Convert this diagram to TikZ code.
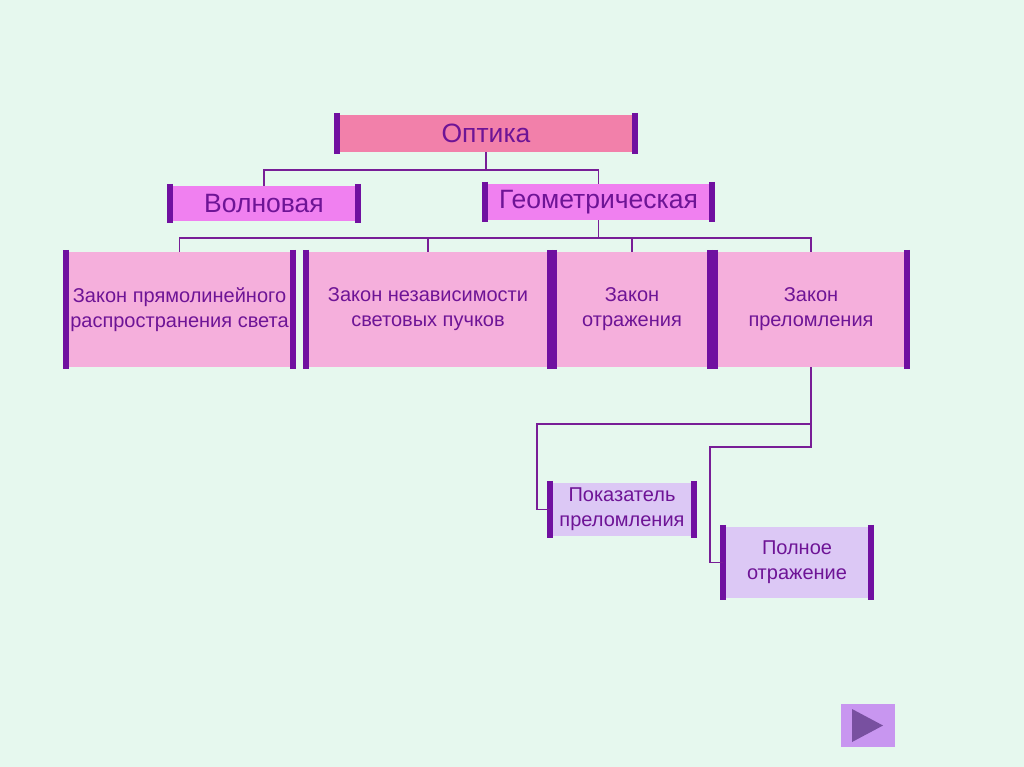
\documentclass[tikz,border=0pt]{standalone}
\usepackage{fontspec}
\setmainfont{Liberation Sans}
\usetikzlibrary{positioning}

\definecolor{bgmint}{RGB}{230,248,238}
\definecolor{barpurple}{RGB}{112,16,160}
\definecolor{linepurple}{RGB}{120,30,150}
\definecolor{textpurple}{RGB}{110,20,150}
\definecolor{titlepink}{RGB}{242,128,170}
\definecolor{branchpink}{RGB}{240,128,240}
\definecolor{lawpink}{RGB}{245,175,220}
\definecolor{subviolet}{RGB}{220,200,245}
\definecolor{btnviolet}{RGB}{200,150,240}
\definecolor{btntri}{RGB}{120,80,160}

\tikzset{
    box/.style     = {inner sep = 0pt, text = textpurple, align = center},
    bigbox/.style  = {box, font = \fontsize{26.5}{30}\selectfont},
    lawbox/.style  = {box, fill = lawpink, minimum height = 115pt,
                      font = \fontsize{20}{25}\selectfont},
    subbox/.style  = {box, fill = subviolet,
                      font = \fontsize{20}{25}\selectfont},
    bar/.style     = {barpurple, line width = 6},
    link/.style    = {linepurple, line width = 1.8},
}

\begin{document}
\begin{tikzpicture}[x = 1pt, y = -1pt]
    \fill [bgmint] (0,0) rectangle (1024,767);
    \useasboundingbox (0,0) rectangle (1024,767);

    % top levels
    \node (optika) at (486,133.5) [bigbox, fill = titlepink, minimum width = 298pt, minimum height = 37pt] {Оптика};
    \node (wave)   at (264,203.5) [bigbox, fill = branchpink, minimum width = 188pt, minimum height = 35pt] {Волновая};
    \node (geom)   at (598.5,202) [bigbox, fill = branchpink, minimum width = 227pt, minimum height = 36pt] {Геометрическая};

    % laws
    \node (straight) at (179.5,309.5) [lawbox, minimum width = 227pt] {Закон прямолинейного\\распространения света};
    \node (indep)    at (428,309.5)   [lawbox, minimum width = 244pt] {Закон независимости\\световых пучков};
    \node (reflect)  at (632,309.5)   [lawbox, minimum width = 156pt] {Закон\\отражения};
    \node (refract)  at (811,309.5)   [lawbox, minimum width = 192pt] {Закон\\преломления};

    % refraction
    \node (index) at (622,509.5) [subbox, minimum width = 144pt, minimum height = 53pt] {Показатель\\преломления};
    \node (total) at (797,562.5) [subbox, minimum width = 148pt, minimum height = 71pt] {Полное\\отражение};

    \foreach \n in {optika, wave, geom, straight, indep, reflect, refract, index, total} {
        \draw [bar] ([yshift = 2]\n.north west) -- ([yshift = -2]\n.south west);
        \draw [bar] ([yshift = 2]\n.north east) -- ([yshift = -2]\n.south east);
    }

    \draw [link] (optika.south) -- ++(0,18) -| (wave.north);
    \draw [link] (optika.south) -- ++(0,18) -| (geom.north);

    \draw [link] (geom.south) -- ++(0,18) -| (straight.north);
    \draw [link] (geom.south) -- ++(0,18) -| (indep.north);
    \draw [link] (geom.south) -- ++(0,18) -| (reflect.north);
    \draw [link] (geom.south) -- ++(0,18) -| (refract.north);

    \coordinate (fork) at ([yshift = -57]refract.south);
    \draw [link] (refract.south) -- (fork) -| ([xshift = -13]index.west) -- (index.west);
    \draw [link] (fork) -- ++(0,23) -| ([xshift = -13]total.west) -- (total.west);

    % next button
    \node (next) at (868,725.5) [fill = btnviolet, minimum width = 54pt, minimum height = 43pt] {};
    \fill [btntri] ([xshift = -16, yshift = 16.5]next.center) -- ([xshift = -16, yshift = -16.5]next.center)
        -- ([xshift = 15]next.center) -- cycle;
\end{tikzpicture}
\end{document}
